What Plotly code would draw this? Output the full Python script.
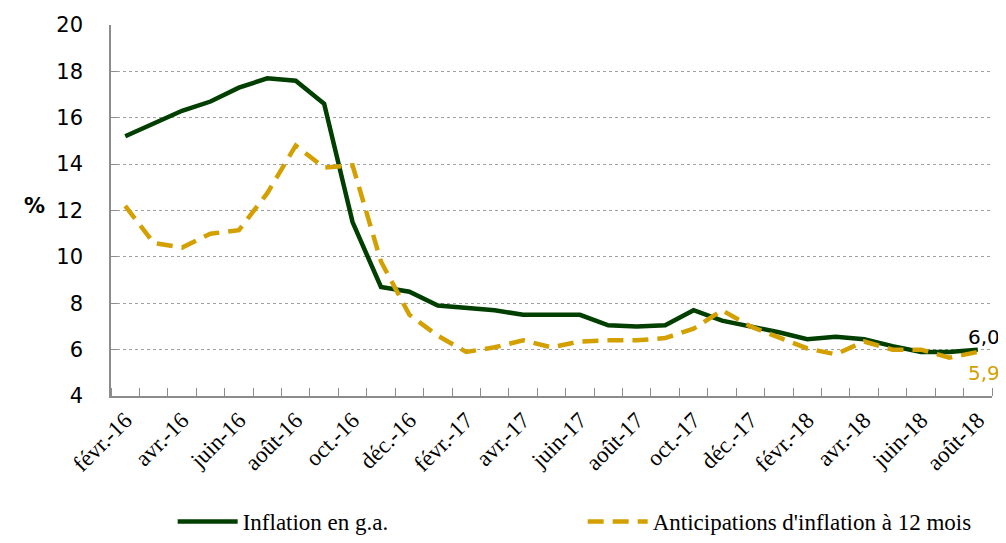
import plotly.graph_objects as go

months = ['févr.-16', 'mars-16', 'avr.-16', 'mai-16', 'juin-16', 'juil.-16', 'août-16', 'sept.-16',
          'oct.-16', 'nov.-16', 'déc.-16', 'janv.-17', 'févr.-17', 'mars-17', 'avr.-17', 'mai-17',
          'juin-17', 'juil.-17', 'août-17', 'sept.-17', 'oct.-17', 'nov.-17', 'déc.-17', 'janv.-18',
          'févr.-18', 'mars-18', 'avr.-18', 'mai-18', 'juin-18', 'juil.-18', 'août-18']

inflation = [15.2, 15.75, 16.3, 16.7, 17.3, 17.7, 17.6, 16.6, 11.5, 8.7, 8.5, 7.9, 7.8, 7.7, 7.5, 7.5,
             7.5, 7.05, 7.0, 7.05, 7.7, 7.25, 7.0, 6.75, 6.45, 6.55, 6.45, 6.15, 5.9, 5.9, 6.0]

anticipations = [12.2, 10.6, 10.4, 11.0, 11.15, 12.75, 14.8, 13.85, 13.95, 9.8, 7.5, 6.6, 5.9, 6.1, 6.4,
                 6.1, 6.35, 6.4, 6.4, 6.5, 6.9, 7.7, 7.0, 6.5, 6.05, 5.8, 6.35, 6.0, 6.0, 5.65, 5.9]

green = '#003f00'
gold = '#d4a000'
serif = 'Liberation Serif, Times New Roman, serif'

x_idx = list(range(len(months)))

fig = go.Figure()
fig.add_trace(go.Scatter(
    x=x_idx, y=inflation, mode='lines', name='Inflation en g.a.',
    line=dict(color=green, width=4.5),
))
fig.add_trace(go.Scatter(
    x=x_idx, y=anticipations, mode='lines', name="Anticipations d'inflation à 12 mois",
    line=dict(color=gold, width=4.5, dash='16px,9px'),
))

# end-of-series value labels
fig.add_annotation(x=x_idx[-1], y=inflation[-1], text='6,0', showarrow=False,
                   xshift=6, yshift=13, font=dict(family='DejaVu Sans', size=20, color='black'))
fig.add_annotation(x=x_idx[-1], y=anticipations[-1], text='5,9', showarrow=False,
                   xshift=6, yshift=-21, font=dict(family='DejaVu Sans', size=20, color=gold))

# "%" axis title
fig.add_annotation(x=-0.101, xref='paper', y=12.2, yref='y', text='<b>%</b>', showarrow=False,
                   font=dict(family='DejaVu Sans', size=21, color='black'))

fig.update_xaxes(
    range=[-0.5, len(months) - 0.5], automargin=False,
    tickvals=x_idx[::2], ticktext=months[::2], tickangle=-45,
    ticks='', showgrid=False, zeroline=False,
    showline=True, linecolor='#8c8c8c', linewidth=1.5,
    minor=dict(tick0=-0.5, dtick=1, ticks='inside', ticklen=8, tickcolor='#8c8c8c', showgrid=False),
    tickfont=dict(family=serif, size=23, color='black'),
)
fig.update_yaxes(
    range=[4, 20], dtick=2, automargin=False,
    ticks='inside', ticklen=6, tickcolor='#8c8c8c', ticklabelstandoff=22,
    showgrid=True, gridcolor='#a0a0a0', griddash='dot', gridwidth=1,
    zeroline=False, showline=True, linecolor='#8c8c8c', linewidth=1.5,
    tickfont=dict(family='DejaVu Sans', size=21, color='black'),
)

fig.update_layout(
    width=998, height=535,
    margin=dict(l=103, r=14, t=17, b=147),
    plot_bgcolor='white', paper_bgcolor='white',
    legend=dict(orientation='h', xref='container', yref='container',
                x=0.165, y=0.0, xanchor='left', yanchor='bottom',
                entrywidth=335, entrywidthmode='pixels', itemwidth=60,
                font=dict(family=serif, size=23, color='black')),
)

fig.write_html("out.html")
